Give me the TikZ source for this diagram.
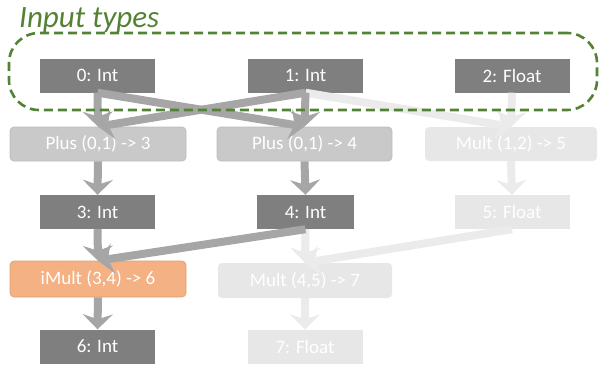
\documentclass[tikz,border=0pt]{standalone}
\usepackage{fontspec}
\setmainfont{Carlito}
\usetikzlibrary{arrows.meta}
\definecolor{darkn}{HTML}{7F7F7F}
\definecolor{midn}{HTML}{C9C9C9}
\definecolor{midb}{HTML}{BDBDBD}
\definecolor{lightn}{HTML}{E7E7E7}
\definecolor{orangen}{HTML}{F4B183}
\definecolor{greenl}{HTML}{548235}
\definecolor{arrg}{HTML}{A6A6A6}
\definecolor{arrl}{HTML}{EBEBEB}
\tikzset{
  box/.style={minimum height=34pt, inner sep=0pt, text=white, font=\fontsize{19}{21}\selectfont},
  valbox/.style={box, fill=darkn, minimum width=115pt},
  valboxl/.style={box, fill=lightn, minimum width=115pt},
  opbox/.style={box, fill=midn, draw=midb, line width=0.8pt, rounded corners=4pt, minimum width=176pt},
  opboxl/.style={box, fill=lightn, rounded corners=4pt, minimum width=176pt},
  opboxo/.style={box, fill=orangen, draw=orangen!90!black, line width=0.6pt, rounded corners=4pt, minimum width=176pt},
  conn/.style={draw=arrg, line width=8pt, -{Stealth[length=15pt,width=30pt,inset=5pt]}},
  connl/.style={conn, draw=arrl},
}
\begin{document}
\begin{tikzpicture}[x=1pt,y=-1pt]
\useasboundingbox (0,0) rectangle (599,367);
% nodes
\node[valbox] (n0) at (97.5,75.5) {0: Int};
\node[valbox] (n1) at (305.5,75.5) {1: Int};
\node[valbox] (n2) at (512,75.5) {2: Float};
\node[opbox] (p3) at (98,144) {Plus (0,1) -> 3};
\node[opbox, minimum width=175pt] (p4) at (304.5,144) {Plus (0,1) -> 4};
\node[opboxl, minimum width=172pt] (m5) at (511,144) {Mult (1,2) -> 5};
\node[valbox] (n3) at (97.5,212) {3: Int};
\node[valbox, minimum width=97pt] (n4) at (305.5,212) {4: Int};
\node[valboxl] (n5) at (512,212) {5: Float};
\node[opboxo, minimum height=36pt] (m6) at (98,279) {iMult (3,4) -> 6};
\node[opboxl, minimum width=174pt, minimum height=35pt] (m7) at (305,280.5) {Mult (4,5) -> 7};
\node[valbox] (n6) at (97.5,346.5) {6: Int};
\node[valboxl] (n7) at (305,346.5) {7: Float};
% connectors
\path[connl] (n1.south) -- (m5.north);
\path[connl] (n2.south) -- (m5.north);
\path[connl] (m5.south) -- (n5.north);
\path[connl] (n4.south) -- (m7.north);
\path[connl] (n5.south) -- (m7.north);
\path[connl] (m7.south) -- (n7.north);
\path[conn] (n0.south) -- (p3.north);
\path[conn] (n0.south) -- (p4.north);
\path[conn] (n1.south) -- (p3.north);
\path[conn] (n1.south) -- (p4.north);
\path[conn] (p3.south) -- (n3.north);
\path[conn] (p4.south) -- (n4.north);
\path[conn] (n3.south) -- (m6.north);
\path[conn] (n4.south) -- (m6.north);
\path[conn] (m6.south) -- (n6.north);
% group
\node[draw=greenl, dash pattern=on 9pt off 5pt, line width=2.6pt, rounded corners=30pt, minimum width=588pt, minimum height=77pt, inner sep=0pt] (grp) at (303,71.5) {};
\node[text=greenl, font=\itshape\fontsize{31}{33}\selectfont, anchor=base west, inner sep=0pt] (lbl) at (19,27) {Input types};
\end{tikzpicture}
\end{document}
